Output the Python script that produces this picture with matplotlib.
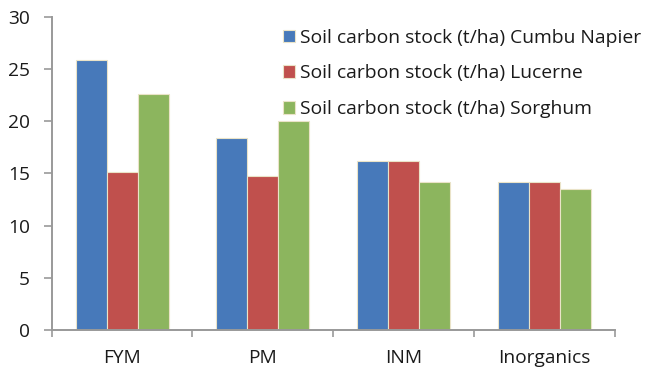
import matplotlib
matplotlib.use("Agg")
import matplotlib.pyplot as plt
import numpy as np

categories = ["FYM", "PM", "INM", "Inorganics"]
series_names = ["Soil carbon stock (t/ha) Cumbu Napier",
                "Soil carbon stock (t/ha) Lucerne",
                "Soil carbon stock (t/ha) Sorghum"]
cumbu_napier = [25.9, 18.4, 16.15, 14.15]
lucerne = [15.15, 14.8, 16.2, 14.17]
sorghum = [22.65, 20.0, 14.17, 13.55]
colors = ["#4779BA", "#C0504D", "#8CB55E"]

plt.rcParams['font.family'] = ['Open Sans', 'DejaVu Sans']

fig = plt.figure(figsize=(6.49, 3.69), dpi=100)
ax = fig.add_axes([0.0796, 0.1057, 0.868, 0.8483])

x = np.arange(len(categories))
w = 0.22
for i, vals in enumerate([cumbu_napier, lucerne, sorghum]):
    ax.bar(x + (i - 1) * w, vals, width=w, color=colors[i],
           edgecolor="#EAE3C8", linewidth=0.8, label=series_names[i])

ax.set_xlim(-0.5, len(categories) - 0.5)
ax.set_ylim(0, 30)
ax.set_yticks(range(0, 31, 5))
ax.set_xticks(np.arange(-0.5, len(categories), 1.0))
ax.set_xticklabels([])
ax.set_xticks(x, minor=True)
ax.set_xticklabels(categories, minor=True)
ax.tick_params(axis='x', which='major', length=5, width=1.2, color="#999999", direction='out')
ax.tick_params(axis='x', which='minor', length=0, pad=14, labelsize=13.8, labelcolor="#1a1a1a")
ax.tick_params(axis='y', length=5.5, width=1.2, color="#999999", labelsize=13.8, pad=10,
               labelcolor="#1a1a1a")
for s in ["top", "right"]:
    ax.spines[s].set_visible(False)
for s in ["left", "bottom"]:
    ax.spines[s].set_color("#999999")
    ax.spines[s].set_linewidth(1.4)

leg = ax.legend(loc='upper left', bbox_to_anchor=(275 / 649, 1 - 21 / 369),
                bbox_transform=fig.transFigure, frameon=False, fontsize=13.9,
                handlelength=0.62, handleheight=0.62, handletextpad=0.25,
                labelspacing=0.92, borderaxespad=0)
for t in leg.get_texts():
    t.set_color("#1a1a1a")

fig.savefig("out.png", dpi=100)
